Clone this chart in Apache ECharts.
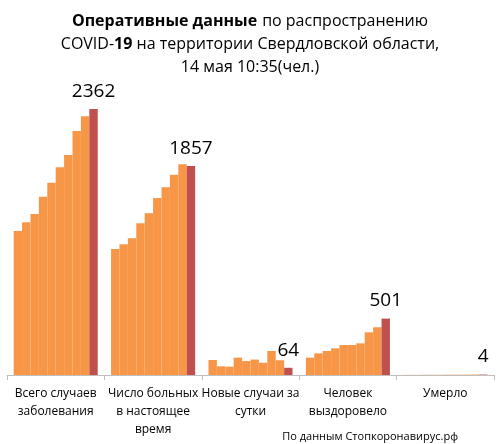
<!DOCTYPE html>
<html><head><meta charset="utf-8">
<script src="https://cdn.jsdelivr.net/npm/echarts@6/dist/echarts.min.js"></script>
<style>html,body{margin:0;padding:0;background:#fff}#c{width:500px;height:444px}</style>
</head><body><div id="c"></div>
<script>
const categories = ['Всего случаев\nзаболевания', 'Число больных\nв настоящее\nвремя', 'Новые случаи за\nсутки', 'Человек\nвыздоровело', 'Умерло'];
const totalCases = [1279, 1356, 1430, 1584, 1708, 1845, 1954, 2167, 2298, 2362];
const activeCases = [1119, 1161, 1214, 1347, 1436, 1572, 1667, 1779, 1871, 1857];
const newCases = [133, 77, 74, 154, 124, 137, 109, 213, 131, 64];
const recovered = [154, 192, 213, 237, 266, 266, 281, 379, 424, 501];
const deaths = [1, 1, 2, 2, 2, 3, 3, 3, 4, 4];
const groups = [totalCases, activeCases, newCases, recovered, deaths];
const FONT = 'Open Sans';
const series = [];
for (let i = 0; i < 10; i++) {
  const last = i === 9;
  series.push({
    type: 'bar',
    data: groups.map(g => g[i]),
    barGap: '0%',
    barCategoryGap: '13.7%',
    itemStyle: { color: last ? '#C0504D' : '#F79646' },
    label: last ? { show: true, position: 'top', distance: 8, fontFamily: FONT, fontSize: 19, color: '#000' } : { show: false },
    animation: false
  });
}
const chart = echarts.init(document.getElementById('c'));
chart.setOption({
  animation: false,
  title: [{
    left: 'center', top: 5,
    text: '{b|Оперативные данные} {n|по распространению}\n{n|COVID-}{b|19}{n| на территории Свердловской области,}\n{n|14 мая 10:35(чел.)}',
    textStyle: {
      fontWeight: 'normal',
      rich: {
        b: { fontFamily: FONT, fontSize: 16, fontWeight: 'bold', color: '#000', lineHeight: 23 },
        n: { fontFamily: FONT, fontSize: 16, fontWeight: 'normal', color: '#000', lineHeight: 23 }
      }
    }
  }, {
    text: 'По данным Стопкоронавирус.рф',
    right: 37, top: 426,
    textStyle: { fontFamily: FONT, fontSize: 11, fontWeight: 'normal', color: '#000' }
  }],
  grid: { left: 7, right: 6, top: 93.5, bottom: 69 },
  xAxis: {
    type: 'category', data: categories,
    axisLine: { lineStyle: { color: '#BFBFBF' } },
    axisTick: { show: true, length: 5, lineStyle: { color: '#BFBFBF' } },
    axisLabel: { interval: 0, margin: 10, fontFamily: FONT, fontSize: 12, color: '#000', lineHeight: 18 }
  },
  yAxis: { type: 'value', min: 0, max: 2500, show: false, splitLine: { show: false } },
  series: series
});
</script></body></html>
